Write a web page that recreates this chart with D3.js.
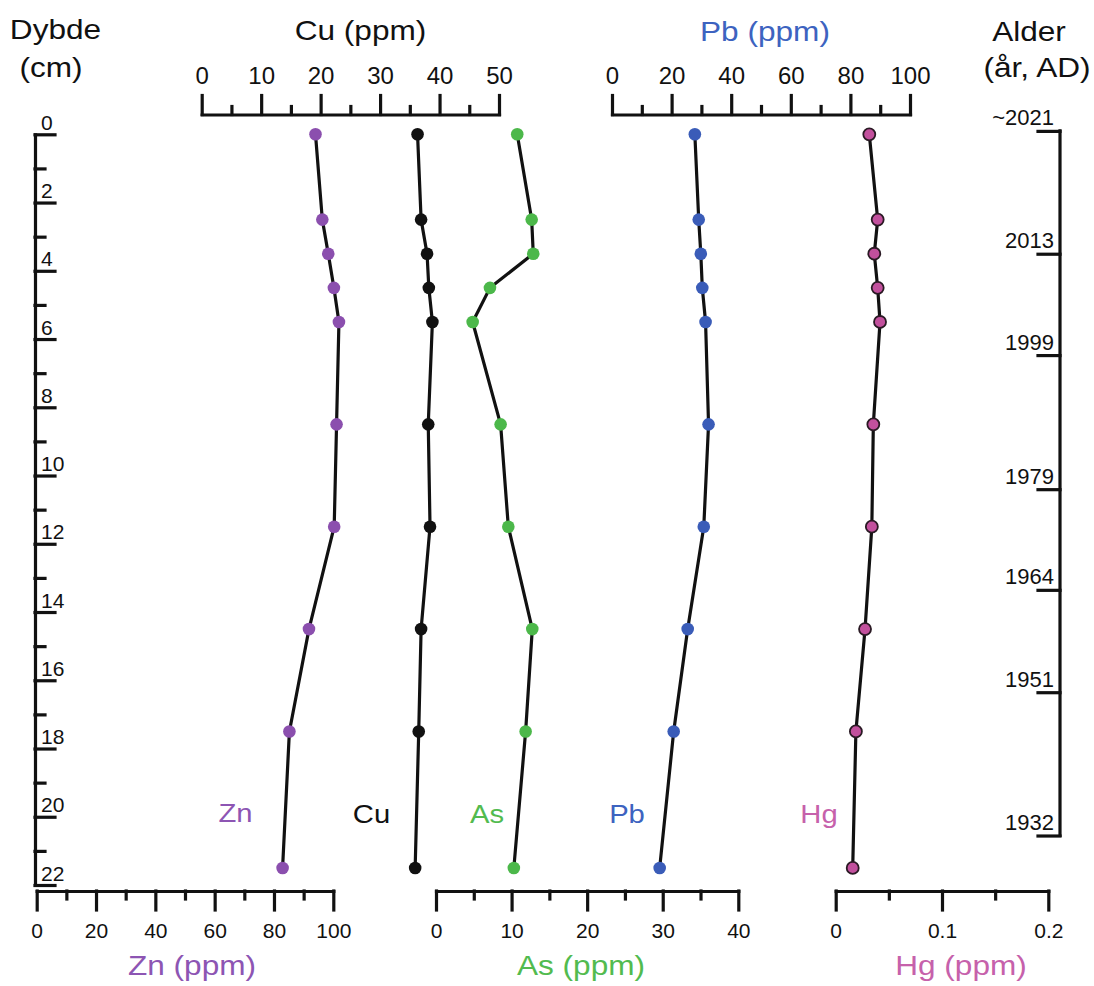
<!DOCTYPE html>
<html>
<head>
<meta charset="utf-8">
<script src="https://cdn.jsdelivr.net/npm/d3@7"></script>
<style>
  html, body { margin: 0; padding: 0; background: #fff; }
  svg { display: block; font-family: "Liberation Sans", Arial, Helvetica, sans-serif; }
  .axis path, .axis line { stroke: #111; stroke-width: 3.2; stroke-linecap: square; }
  .axis text { fill: #111; font-size: 21px; }
</style>
</head>
<body>
<svg id="chart" width="1094" height="986"></svg>
<script>
// Sample depths (cm) and element concentrations
const depths = [0, 2.5, 3.5, 4.5, 5.5, 8.5, 11.5, 14.5, 17.5, 21.5];
const zn = [94.0, 96.3, 98.3, 100.2, 101.9, 101.1, 100.3, 91.8, 85.2, 82.9];
const cu = [36.3, 36.9, 37.9, 38.2, 38.8, 38.1, 38.4, 36.9, 36.5, 35.9];
const as = [10.75, 12.66, 12.87, 7.14, 4.85, 8.55, 9.57, 12.74, 11.86, 10.3];
const pb = [27.8, 29.1, 29.8, 30.3, 31.4, 32.4, 30.8, 25.4, 20.7, 16.0];
const hg = [0.0316, 0.0395, 0.0363, 0.0395, 0.0417, 0.0354, 0.034, 0.0276, 0.019, 0.016];

// Depth axis ticks
const depthMajor = [0, 2, 4, 6, 8, 10, 12, 14, 16, 18, 20, 22];
const depthMinor = [1, 3, 5, 7, 9, 11, 13, 15, 17, 19, 21];

// Age model: depth (cm) of each dated level
const ageLabels = ["~2021", "2013", "1999", "1979", "1964", "1951", "1932"];
const ageDepths = [-0.1, 3.5, 6.47, 10.4, 13.35, 16.35, 20.55];

// Concentration axis ticks
const znMajor = [0, 20, 40, 60, 80, 100], znMinor = [10, 30, 50, 70, 90];
const cuMajor = [0, 10, 20, 30, 40, 50], cuMinor = [5, 15, 25, 35, 45];
const asMajor = [0, 10, 20, 30, 40], asMinor = [5, 15, 25, 35];
const pbMajor = [0, 20, 40, 60, 80, 100], pbMinor = [10, 30, 50, 70, 90];
const hgMajor = [0, 0.1, 0.2], hgMinor = [0.05, 0.15];

const colors = { zn: "#8b4fae", cu: "#111111", as: "#4cb84a", pb: "#3a5cb8", hg: "#c2509d" };
const textColors = { zn: "#8d55b3", cu: "#111111", as: "#52bb4f", pb: "#3d63c0", hg: "#c661ab" };

const svg = d3.select("#chart");

const y = d3.scaleLinear().domain([0, 22]).range([134.3, 885]);
const xZn = d3.scaleLinear().domain([0, 100]).range([36.7, 333.3]);
const xCu = d3.scaleLinear().domain([0, 50]).range([201.7, 499]);
const xAs = d3.scaleLinear().domain([0, 40]).range([436, 738.3]);
const xPb = d3.scaleLinear().domain([0, 100]).range([612, 910]);
const xHg = d3.scaleLinear().domain([0, 0.2]).range([835.7, 1048.3]);

const bottomY = 891, topY = 114.5;

// Horizontal concentration axis: major ticks with labels plus short minor ticks
function hAxis(scale, majors, minors, fmt, where) {
  const isTop = where === "top";
  const mk = isTop ? d3.axisTop : d3.axisBottom;
  const g = svg.append("g").attr("class", "axis")
    .attr("transform", `translate(0,${isTop ? topY : bottomY})`);
  g.append("g").call(mk(scale).tickValues(minors).tickSize(8).tickSizeOuter(0).tickFormat(""))
    .select(".domain").remove();
  const major = g.append("g").call(mk(scale).tickValues(majors).tickSize(19).tickSizeOuter(0).tickFormat(fmt));
  major.selectAll("text")
    .attr("y", isTop ? -31 : 47)
    .attr("dy", 0)
    .style("font-size", isTop ? "24px" : "21px");
}

hAxis(xZn, znMajor, znMinor, d3.format("d"), "bottom");
hAxis(xAs, asMajor, asMinor, d3.format("d"), "bottom");
hAxis(xHg, hgMajor, hgMinor, d => d === 0 ? "0" : d3.format(".1f")(d), "bottom");
hAxis(xCu, cuMajor, cuMinor, d3.format("d"), "top");
hAxis(xPb, pbMajor, pbMinor, d3.format("d"), "top");

// Depth axis on the left
const dAxis = svg.append("g").attr("class", "axis").attr("transform", "translate(35,0)");
dAxis.append("g").call(d3.axisRight(y).tickValues(depthMinor).tickSize(10).tickSizeOuter(0).tickFormat(""))
  .select(".domain").remove();
const dMaj = dAxis.append("g").call(d3.axisRight(y).tickValues(depthMajor).tickSize(20).tickSizeOuter(0).tickFormat(d3.format("d")));
dMaj.selectAll("text").attr("x", 6).attr("y", -5).attr("dy", 0).attr("text-anchor", "start");

// Age axis on the right
const aAxis = svg.append("g").attr("class", "axis").attr("transform", "translate(1060,0)");
const aScale = y.copy();
aAxis.call(d3.axisLeft(aScale).tickValues(ageDepths).tickSize(22).tickSizeOuter(0)
  .tickFormat((d, i) => ageLabels[i]));
aAxis.select(".domain").attr("d", `M0,${aScale(ageDepths[0])}V${aScale(ageDepths[ageDepths.length - 1])}`);
aAxis.selectAll("text").attr("x", -6).attr("y", -6).attr("dy", 0).attr("text-anchor", "end")
  .style("font-size", "22px");

// Profiles
const series = [
  { key: "zn", vals: zn, x: xZn },
  { key: "cu", vals: cu, x: xCu },
  { key: "as", vals: as, x: xAs },
  { key: "pb", vals: pb, x: xPb },
  { key: "hg", vals: hg, x: xHg }
];

series.forEach(s => {
  const pts = depths.map((d, i) => [s.x(s.vals[i]), y(d)]);
  svg.append("path")
    .attr("d", d3.line()(pts))
    .attr("fill", "none")
    .attr("stroke", "#111")
    .attr("stroke-width", 3.2)
    .attr("stroke-linejoin", "round");
});

series.forEach(s => {
  svg.append("g").selectAll("circle")
    .data(depths.map((d, i) => ({ d, v: s.vals[i] })))
    .join("circle")
    .attr("cx", p => s.x(p.v))
    .attr("cy", p => y(p.d))
    .attr("r", s.key === "hg" ? 6 : 6.3)
    .attr("fill", colors[s.key])
    .attr("stroke", s.key === "hg" ? "#2a1a24" : "none")
    .attr("stroke-width", s.key === "hg" ? 1.8 : 0);
});

// Titles (slightly widened lettering)
function title(txt, cx, base, color, size) {
  svg.append("text")
    .attr("transform", `translate(${cx},${base}) scale(1.17,1)`)
    .attr("text-anchor", "middle")
    .style("font-size", size + "px")
    .attr("fill", color)
    .text(txt);
}

title("Dybde", 55.5, 39, "#111", 27);
title("(cm)", 51, 77, "#111", 27);
title("Cu (ppm)", 360.5, 40, "#111", 27);
title("Pb (ppm)", 765, 41, textColors.pb, 27);
title("Alder", 1029, 41, "#111", 27);
title("(år, AD)", 1037, 77, "#111", 27);
title("Zn (ppm)", 192, 975, textColors.zn, 27);
title("As (ppm)", 581, 975, textColors.as, 27);
title("Hg (ppm)", 961, 975, textColors.hg, 27);

// In-panel element labels
title("Zn", 235.5, 822, textColors.zn, 25);
title("Cu", 371.5, 823, "#111", 25);
title("As", 487, 823, textColors.as, 25);
title("Pb", 627, 823, textColors.pb, 25);
title("Hg", 819, 823, textColors.hg, 25);
</script>
</body>
</html>
